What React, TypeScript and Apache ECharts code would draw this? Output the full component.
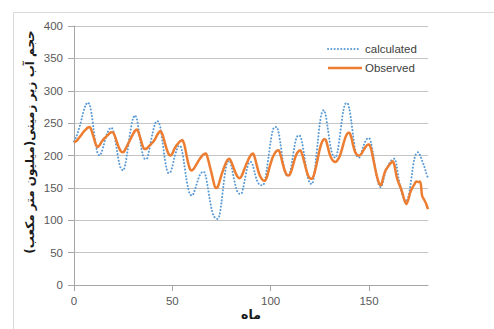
import React, { useEffect, useRef } from "react";
import * as echarts from "echarts";

const calculated: number[] = [
  222, 228, 236, 246, 258, 270, 278, 282, 278, 263,
  240, 218, 204, 200, 205, 215, 226, 235, 241, 243,
  238, 224, 205, 188, 179, 177, 185, 203, 224, 243,
  257, 262, 256, 238, 217, 201, 195, 195, 205, 220,
  235, 247, 253, 252, 242, 222, 199, 181, 173, 174,
  183, 196, 207, 214, 215, 206, 188, 167, 150, 140,
  138, 143, 152, 162, 170, 174, 175, 168, 152, 133,
  117, 107, 103, 102, 108, 128, 154, 177, 190, 192,
  184, 169, 155, 145, 141, 141, 150, 165, 180, 189,
  190, 184, 172, 162, 156, 154, 154, 160, 178, 200,
  222, 238, 244, 244, 236, 218, 196, 178, 170, 169,
  176, 193, 212, 226, 231, 230, 220, 202, 182, 165,
  157, 156, 168, 193, 222, 250, 266, 270, 262, 243,
  222, 206, 198, 197, 206, 226, 250, 270, 280, 281,
  272, 253, 229, 208, 198, 197, 203, 213, 221, 226,
  227, 220, 204, 184, 166, 155, 151, 158, 171, 180,
  186, 191, 194, 195, 185, 166, 150, 139, 132, 130,
  136, 153, 175, 194, 203, 205, 200, 192, 184, 174,
  165,
];

const observed: number[] = [
  220, 222, 225, 229, 233, 237, 240, 243, 244, 238,
  228, 218, 213, 216, 221, 225, 228, 231, 234, 236,
  235, 228, 219, 211, 206, 205, 209, 215, 221, 227,
  233, 238, 240, 234, 224, 214, 210, 211, 214, 217,
  220, 224, 230, 235, 238, 232, 222, 211, 203, 200,
  203, 210, 215, 219, 222, 224, 218, 204, 189, 179,
  177, 180, 185, 190, 195, 199, 202, 203, 196, 184,
  172, 159, 150, 151, 160, 170, 179, 187, 193, 195,
  190, 182, 174, 168, 165, 167, 174, 182, 189, 196,
  201, 203, 196, 184, 173, 166, 162, 161, 166, 177,
  188, 197, 203, 207, 208, 201, 189, 178, 171, 169,
  172, 181, 192, 201, 206, 208, 202, 191, 179, 169,
  165, 164, 170, 182, 196, 210, 220, 225, 224, 214,
  202, 195, 191, 190, 193, 198, 207, 218, 228, 234,
  235, 228, 215, 205, 201, 200, 202, 207, 212, 216,
  217, 211, 197, 182, 168, 158, 154, 163, 174, 180,
  184, 188, 191, 184, 168, 158, 151, 142, 131, 125,
  132, 143, 150, 155, 160, 159, 160, 138, 132, 126,
  117,
];

const seriesNames: string[] = ["calculated", "Observed"];
const xTicks: number[] = [0, 50, 100, 150];
const yTicks: number[] = [0, 50, 100, 150, 200, 250, 300, 350, 400];

const yTitle = "حجم آب زیر زمینی(میلیون متر مکعب)\u200F";
const xTitle = "ماه";

export default function App() {
  const ref = useRef<HTMLDivElement>(null);
  useEffect(() => {
    document.body.style.margin = "0";
    if (!ref.current) return;
    const chart = echarts.init(ref.current, null, { renderer: "svg" });
    const font = "Liberation Sans";
    const blue = "#5b9bd5";
    const orange = "#ed7d31";
    const dotted = { color: blue, width: 2, type: [0.1, 3.2], cap: "round" };
    const legendText = {
      fontFamily: font,
      fontSize: 11.5,
      fill: "#404040",
      verticalAlign: "middle",
      align: "left",
    };
    chart.setOption({
      animation: false,
      backgroundColor: "#ffffff",
      grid: { left: 74, right: 66, top: 26, bottom: 44, containLabel: false },
      xAxis: {
        type: "value",
        min: 0,
        max: 180,
        interval: 50,
        splitLine: { show: false },
        axisLine: { show: true, lineStyle: { color: "#a6a6a6", width: 1 } },
        axisTick: {
          show: true,
          length: 6,
          customValues: xTicks,
          lineStyle: { color: "#a6a6a6" },
        },
        axisLabel: {
          customValues: xTicks,
          margin: 10,
          fontFamily: font,
          fontSize: 11.5,
          color: "#595959",
        },
      },
      yAxis: {
        type: "value",
        min: 0,
        max: 400,
        interval: 50,
        axisLine: { show: true, lineStyle: { color: "#a6a6a6", width: 1 } },
        axisTick: { show: true, length: 6, lineStyle: { color: "#a6a6a6" } },
        splitLine: { show: true, lineStyle: { color: "#c4c4c4", width: 1 } },
        axisLabel: {
          margin: 11,
          fontFamily: font,
          fontSize: 11.5,
          color: "#595959",
          formatter: (v: number) => (yTicks.includes(v) ? String(v) : ""),
        },
      },
      graphic: [
        {
          type: "rect",
          left: 11,
          top: 10,
          shape: { x: 0, y: 0, width: 500, height: 340 },
          style: { fill: "none", stroke: "#d9d9d9", lineWidth: 1 },
          silent: true,
          z: -1,
        },
        {
          type: "text",
          x: 30,
          y: 142,
          rotation: Math.PI / 2,
          style: {
            text: yTitle,
            font: "bold 12px 'DejaVu Sans'",
            fill: "#1a1a1a",
            align: "center",
            verticalAlign: "middle",
          },
        },
        {
          type: "text",
          x: 251,
          y: 314,
          style: {
            text: xTitle,
            font: "bold 12.5px 'DejaVu Sans'",
            fill: "#1a1a1a",
            align: "center",
            verticalAlign: "middle",
          },
        },
        {
          type: "line",
          shape: { x1: 328, y1: 49, x2: 361, y2: 49 },
          style: { stroke: blue, lineWidth: 2, lineDash: [0.1, 3.2], lineCap: "round" },
          z: 10,
        },
        {
          type: "text",
          x: 365,
          y: 49,
          style: { ...legendText, text: seriesNames[0] },
          z: 10,
        },
        {
          type: "line",
          shape: { x1: 328, y1: 68, x2: 362, y2: 68 },
          style: { stroke: orange, lineWidth: 2.5 },
          z: 10,
        },
        {
          type: "text",
          x: 365,
          y: 68,
          style: { ...legendText, text: seriesNames[1] },
          z: 10,
        },
      ],
      series: [
        {
          name: seriesNames[0],
          type: "line",
          data: calculated.map((v, i) => [i, v]),
          symbol: "none",
          smooth: 0.3,
          lineStyle: dotted,
          itemStyle: { color: blue },
          z: 2,
        },
        {
          name: seriesNames[1],
          type: "line",
          data: observed.map((v, i) => [i, v]),
          symbol: "none",
          smooth: 0.3,
          lineStyle: { color: orange, width: 2.5 },
          itemStyle: { color: orange },
          z: 3,
        },
      ],
    });
    return () => chart.dispose();
  }, []);
  return <div ref={ref} style={{ width: 494, height: 329 }} />;
}
